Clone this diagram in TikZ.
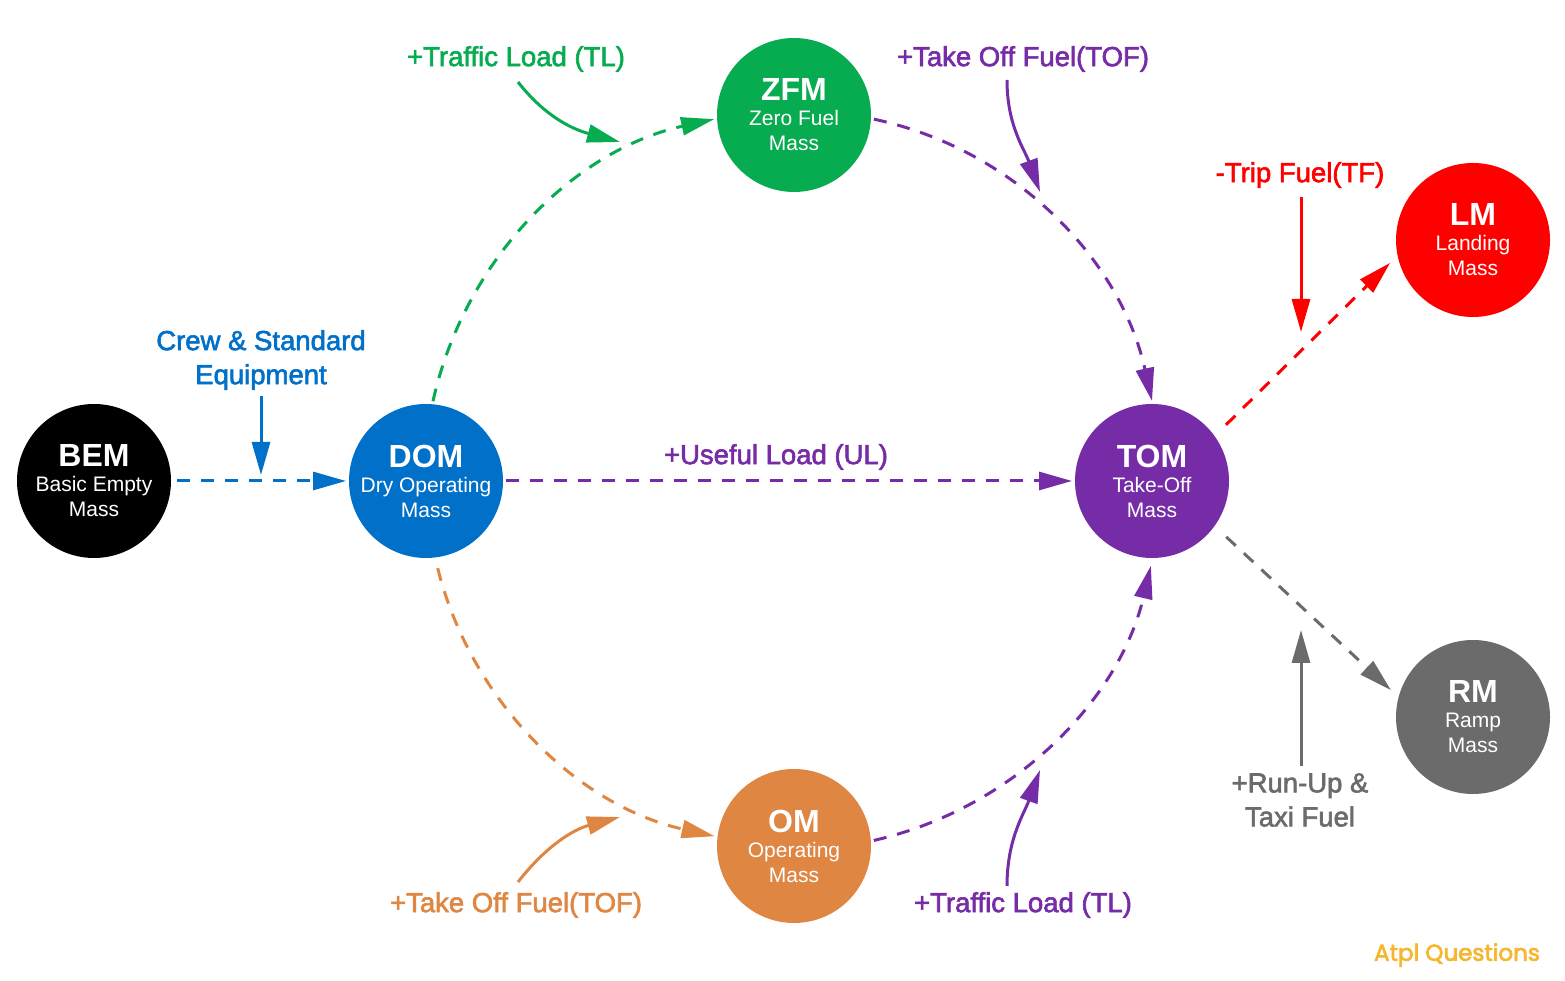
\documentclass[tikz,border=0pt]{standalone}
\usepackage{fontspec}
\setmainfont{Liberation Sans}
\newfontfamily\logofont{Poppins}
\usetikzlibrary{arrows.meta}
\definecolor{blueM}{HTML}{0070C9}
\definecolor{greenM}{HTML}{07AB50}
\definecolor{purpleM}{HTML}{762CA6}
\definecolor{orangeM}{HTML}{DE8642}
\definecolor{grayM}{HTML}{6B6B6B}
\definecolor{logoM}{HTML}{F5B731}
% heavier text, stroked in its own colour
\newcommand{\hvy}[2]{\special{pdf:code 2 Tr #1 w}#2\special{pdf:code 0 Tr 1 w}}
\tikzset{
  mass/.style={circle,minimum size=154pt,inner sep=0pt,outer sep=3pt,text=white,align=center,font=\fontsize{21}{25}\selectfont},
  load/.style={align=center,inner sep=2pt,font=\fontsize{27.5}{34}\selectfont},
  flow/.style={line width=3pt,dash pattern=on 13pt off 11pt,-{Triangle[length=33pt,width=18pt]}},
  push/.style={line width=3pt,-{Triangle[length=33pt,width=18pt]}}
}
\newcommand{\hd}[1]{{\fontsize{32}{25}\selectfont\bfseries #1}}
\begin{document}
\begin{tikzpicture}[x=1pt,y=1pt]
\useasboundingbox (0,0) rectangle (1565,981);
\node[mass,fill=black] (BEM) at (94,500) {\hd{BEM}\\Basic Empty\\Mass};
\node[mass,fill=blueM] (DOM) at (426,500) {\hd{DOM}\\Dry Operating\\Mass};
\node[mass,fill=purpleM] (TOM) at (1152,500) {\hd{TOM}\\Take-Off\\Mass};
\node[mass,fill=greenM] (ZFM) at (794,866) {\hd{ZFM}\\Zero Fuel\\Mass};
\node[mass,fill=orangeM] (OM) at (794,135) {\hd{OM}\\Operating\\Mass};
\node[mass,fill=red] (LM) at (1473,741) {\hd{LM}\\Landing\\Mass};
\node[mass,fill=grayM] (RM) at (1473,264) {\hd{RM}\\Ramp\\Mass};
% labels
\node[load,text=blueM] (crew) at (261,621) {\hvy{0.6}{Crew \& Standard}\\\hvy{0.6}{Equipment}};
\node[load,text=greenM] (tlTop) at (516,922) {\hvy{0.6}{+Traffic Load (TL)}};
\node[load,text=purpleM] (tofTop) at (1023,922) {\hvy{0.6}{+Take Off Fuel(TOF)}};
\node[load,text=red] (trip) at (1300,806) {\hvy{0.6}{-Trip Fuel(TF)}};
\node[load,text=purpleM] (ul) at (776,524) {\hvy{0.6}{+Useful Load (UL)}};
\node[load,text=orangeM] (tofBot) at (516,76) {\hvy{0.6}{+Take Off Fuel(TOF)}};
\node[load,text=purpleM] (tlBot) at (1023,76) {\hvy{0.6}{+Traffic Load (TL)}};
\node[load,text=grayM] (taxi) at (1300,181) {\hvy{0.6}{+Run-Up \&}\\\hvy{0.6}{Taxi Fuel}};
\node[text=logoM,inner sep=0pt,font=\logofont\fontsize{23}{26}\selectfont] (logo) at (1457,26) {\hvy{0.7}{Atpl Questions}};
% tips of the small arrows
\coordinate (crewTip) at (261,506);
\coordinate (tlTopTip) at (620,839);
\coordinate (tofTopTip) at (1040,789);
\coordinate (tripTip) at (1301,649);
\coordinate (tofBotTip) at (620,164);
\coordinate (tlBotTip) at (1040,211);
\coordinate (taxiTip) at (1301,351);
% main flows
\draw[flow,blueM,shorten <=3pt] (BEM) -- (DOM);
\draw[flow,purpleM] (DOM) -- (TOM);
\draw[flow,greenM] (DOM.85) to[out=77.5,in=192.5,looseness=0.93] (ZFM.183);
\draw[flow,purpleM] (ZFM.-3) to[out=-12,in=102.5,looseness=0.93] (TOM.90);
\draw[flow,orangeM,shorten <=8pt] (DOM.-83) to[out=-76,in=167.4,looseness=0.93] (OM.173);
\draw[flow,purpleM,shorten >=5pt] (OM.4) to[out=12.8,in=256.7,looseness=0.93] (TOM.-90);
\draw[flow,red,shorten <=13pt,shorten >=7pt] (TOM.36.5) -- (LM.193);
\draw[flow,grayM,shorten <=13pt,shorten >=7pt] (TOM.-36) -- (RM.164);
% small arrows
\draw[push,blueM,shorten <=4pt] (crew.south) -- (crewTip);
\draw[push,greenM] (tlTop.south) ++(2,-8) to[out=-52,in=165] (tlTopTip);
\draw[push,purpleM] (tofTop.south) ++(-16,-6) to[out=-90,in=110] (tofTopTip);
\draw[push,red,shorten <=3pt] (trip.south) ++(1,-4) -- (tripTip);
\draw[push,orangeM] (tofBot.north) ++(2,8) to[out=52,in=195] (tofBotTip);
\draw[push,purpleM] (tlBot.north) ++(-16,4) to[out=90,in=-110] (tlBotTip);
\draw[push,grayM] (taxi.north) ++(1,5) -- (taxiTip);
\end{tikzpicture}
\end{document}
